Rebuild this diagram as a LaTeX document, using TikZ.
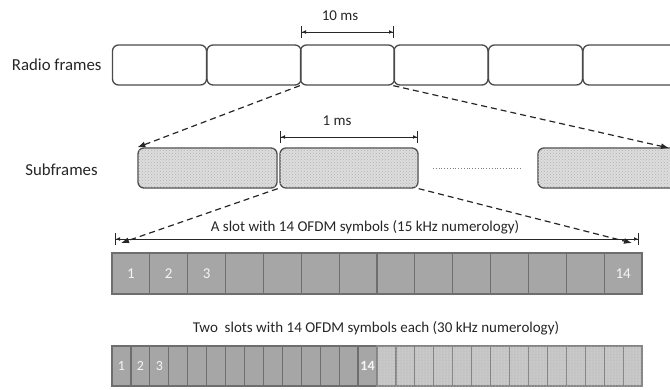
\documentclass[tikz,border=0pt]{standalone}
\usepackage{fontspec}
\setmainfont{Carlito}
\usetikzlibrary{arrows.meta,patterns}
\definecolor{framegray}{HTML}{4A4A4A}
\definecolor{cellgray}{HTML}{A6A6A6}
\definecolor{celledge}{HTML}{6E6E6E}
\definecolor{lightcell}{HTML}{C4C4C4}
\definecolor{subfill}{HTML}{DDDDDD}

\begin{document}
\begin{tikzpicture}[x=1pt, y=-1pt]
    \tikzset{
      frame box/.style={draw=framegray, line width=1.3pt, rounded corners=6pt,
        minimum width=94pt, minimum height=40pt, inner sep=0pt},
      sub box/.style={frame box, fill=subfill,
        postaction={pattern=crosshatch dots, pattern color=gray!60}},
      slot cell/.style={draw=celledge, fill=cellgray, line width=1.2pt,
        minimum width=37.86pt, minimum height=41pt, inner sep=0pt},
      half cell/.style={slot cell, minimum width=18.93pt, minimum height=40pt},
      light cell/.style={fill=lightcell, draw=celledge!85,
        postaction={pattern=dots, pattern color=white!80!gray}},
      row label/.style={font=\fontsize{16.8}{20}\selectfont, text=black!85},
      dim text/.style={font=\fontsize{15}{18}\selectfont, text=black!85},
      cell num/.style={font=\fontsize{15}{18}\selectfont, text=white!92!gray},
      dim line/.style={arrows={{Bar[width=12pt]Latex[length=4pt,width=4pt]}-{Latex[length=4pt,width=4pt]Bar[width=12pt]}},
        line width=1pt, black!85},
      dashed link/.style={draw=black!85, line width=1.2pt, dash pattern=on 6pt off 4pt,
        -{Latex[length=8pt,width=6pt]}}
    }
    \useasboundingbox (0,0) rectangle (670,389);

    % Radio frames
    \node[row label, anchor=east] (radioLabel) at (105,65) {Radio frames};
    \foreach \i/\x in {1/159.5, 2/254, 3/347.5, 4/441, 5/535.5, 6/630}
      \node[frame box] (frame\i) at (\x,65) {};

    % 10 ms span
    \coordinate (tenL) at (301,32);
    \coordinate (tenR) at (394,32);
    \draw[dim line] (tenL) -- (tenR);
    \node[dim text] (tenText) at (340,16) {10 ms};

    % Subframes
    \node[row label] (subLabel) at (61.5,170) {Subframes};
    \node[sub box, minimum width=139pt] (sub1) at (207.5,168) {};
    \node[sub box, minimum width=138pt] (sub2) at (349,168) {};
    \node[sub box, minimum width=138pt] (sub3) at (607,168) {};
    \coordinate (dotsL) at (433,168);
    \coordinate (dotsR) at (520,168);
    \draw[gray, dotted, line width=0.8pt] (dotsL) -- (dotsR);

    % 1 ms span
    \coordinate (oneL) at (280,137);
    \coordinate (oneR) at (418,137);
    \draw[dim line] (oneL) -- (oneR);
    \node[dim text] (oneText) at (337,121) {1 ms};

    % Zoom from frame to subframes
    \coordinate (edgeR) at (669,148);
    \draw[dashed link] (frame3.south west) -- (sub1.north west);
    \draw[dashed link] (frame4.south west) -- (edgeR);

    % Slot span (15 kHz)
    \coordinate (slotL) at (115,239);
    \coordinate (slotR) at (639,239);
    \draw[dim line] (slotL) -- (slotR);
    \node[dim text] (slotText) at (365,227) {A slot with 14 OFDM symbols (15 kHz numerology)};

    % Zoom from subframe to slot
    \coordinate (slotArrL) at (121,243);
    \coordinate (slotArrR) at (632,243);
    \draw[dashed link] (sub1.south east) -- (slotArrL);
    \draw[dashed link] (sub2.south east) -- (slotArrR);

    % 14 symbols, 15 kHz
    \foreach \i in {1,...,14}
      \node[slot cell] (s\i) at ({112+37.86*(\i-0.5)},273.5) {};
    \foreach \i in {1,2,3,14}
      \node[cell num] at (s\i) {\i};

    % Two slots, 30 kHz
    \node[dim text] (twoText) at (376,328) {Two~ slots with 14 OFDM symbols each (30 kHz numerology)};
    \foreach \i in {1,...,14}
      \node[half cell] (t\i) at ({112+18.93*(\i-0.5)},366) {};
    \foreach \i in {15,...,28}
      \node[half cell, light cell] (t\i) at ({112+18.93*(\i-0.5)},366) {};
    \foreach \i in {1,2,3}
      \node[cell num, font=\fontsize{14}{16}\selectfont] at (t\i) {\i};
    \node[cell num, font=\bfseries\fontsize{14}{16}\selectfont] at (t14) {14};
\end{tikzpicture}
\end{document}
